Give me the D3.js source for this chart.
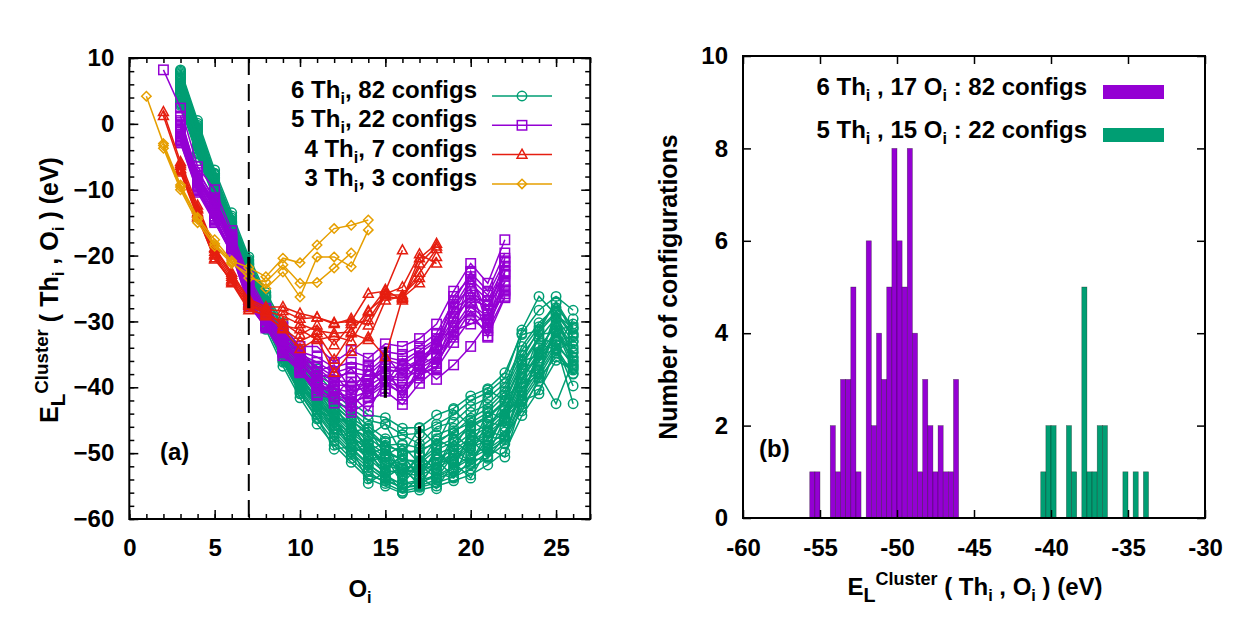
<!DOCTYPE html>
<html><head><meta charset="utf-8">
<script src="https://cdnjs.cloudflare.com/ajax/libs/d3/7.8.5/d3.min.js"></script>
<style>
body{margin:0;background:#fff}
svg{display:block}
text{font-family:"Liberation Sans",Arial,sans-serif;font-weight:bold;white-space:pre;fill:#000}
</style>
</head><body>
<svg id="c" width="1254" height="626"></svg>
<script>
// ---------------- DATA ----------------
// Panel (a): cluster energies vs number of O_i, one array per configuration
const startO6Th = 3, startO5Th = 2, startO4Th = 2, startO3Th = 1;
const green6Th = [
 [8.2,0.5,-7.0,-13.5,-20.2,-25.6,-30.2,-34.3,-37.2,-40.3,-42.3,-44.2,-44.6,-46.2,-46.1,-44.2,-43.2,-41.3,-40.2,-37.8,-31.8,-28.3,-26.2,-28.3],
 [7.6,-0.2,-7.8,-14.3,-20.8,-26.4,-31.2,-35.6,-38.9,-41.8,-43.6,-45.9,-47.8,-47.2,-48.6,-46.0,-45.3,-42.9,-41.6,-39.4,-33.8,-30.2,-27.9,-30.8],
 [6.9,-1.1,-8.3,-15.0,-21.4,-27.1,-32.2,-36.3,-39.1,-42.6,-45.1,-46.8,-49.0,-49.6,-49.9,-48.1,-46.9,-44.7,-43.2,-40.6,-35.1,-31.6,-28.8,-32.4],
 [6.2,-1.8,-8.9,-15.4,-21.9,-27.6,-32.9,-37.1,-40.2,-43.4,-45.6,-48.4,-50.1,-50.9,-51.6,-49.5,-48.3,-46.1,-44.6,-42.3,-36.6,-32.7,-29.4,-33.1],
 [5.5,-2.3,-9.2,-15.9,-22.4,-28.1,-33.4,-37.9,-41.1,-44.2,-46.8,-49.1,-51.4,-52.3,-52.0,-50.8,-49.6,-47.6,-46.0,-43.5,-37.9,-34.0,-30.6,-34.2],
 [4.8,-2.9,-9.8,-16.5,-22.9,-28.6,-34.1,-38.6,-42.0,-45.3,-47.9,-50.3,-52.6,-53.1,-53.4,-52.2,-50.9,-48.9,-47.4,-45.1,-39.5,-35.6,-31.8,-35.5],
 [4.2,-3.5,-10.3,-17.0,-23.6,-29.3,-34.9,-39.4,-43.0,-46.2,-49.1,-51.6,-53.8,-54.6,-54.1,-53.4,-52.1,-50.4,-48.9,-46.8,-41.2,-37.3,-33.1,-36.8],
 [3.4,-4.2,-10.8,-17.8,-24.4,-30.2,-35.8,-40.5,-44.1,-47.6,-50.2,-52.8,-54.6,-55.8,-55.2,-54.5,-53.6,-52.4,-50.6,-48.6,-43.0,-39.1,-34.8,-37.9],
 [2.8,-5.0,-11.4,-18.9,-25.6,-31.2,-36.8,-41.6,-45.6,-48.8,-51.4,-53.9,-55.0,-56.1,-55.6,-55.0,-54.2,-53.3,-51.8,-49.8,-44.3,-40.4,-35.9,-37.4],
 [7.2,-0.8,-8.6,-15.6,-22.0,-27.8,-32.0,-37.6,-39.8,-44.6,-45.2,-49.8,-48.2,-53.6,-50.4,-52.6,-48.0,-50.2,-45.2,-46.0,-37.0,-36.2,-28.4,-36.0],
 [5.0,-2.6,-9.5,-16.2,-23.2,-28.8,-34.6,-38.2,-43.4,-44.8,-49.6,-48.6,-52.8,-50.2,-53.8,-49.2,-52.6,-46.4,-49.6,-43.0,-42.6,-33.6,-34.2,-29.6],
 [3.9,-3.9,-10.6,-17.4,-24.0,-29.8,-35.3,-40.0,-42.6,-47.0,-47.4,-51.2,-50.6,-54.6,-51.8,-53.8,-50.2,-51.6,-47.6,-47.8,-40.0,-38.0,-31.2,-37.2],
 [8.0,0.1,-7.5,-14.0,-20.6,-26.0,-30.8,-35.0,-38.0,-40.8,-43.2,-45.0,-45.6,-47.2,-47.0,-45.6,-44.2,-42.0,-40.8,-38.6,-31.3,-26.2,-29.0,-31.0],
 [6.5,-1.5,-8.7,-15.2,-21.7,-27.4,-32.6,-36.8,-40.0,-43.1,-46.2,-47.6,-49.6,-51.0,-51.2,-49.0,-47.8,-45.8,-44.4,-42.0,-36.2,-32.4,-33.5,-42.5],
 [5.8,-2.0,-9.0,-15.7,-22.2,-27.9,-33.0,-37.4,-40.8,-43.8,-46.4,-48.8,-50.6,-51.8,-52.6,-50.2,-49.0,-47.0,-45.6,-43.2,-37.2,-38.0,-42.5,-36.0],
 [4.5,-3.2,-10.0,-16.8,-23.3,-29.0,-34.4,-39.0,-42.8,-45.8,-48.6,-50.8,-53.0,-52.4,-54.6,-51.4,-51.2,-49.2,-48.0,-44.6,-40.6,-36.0,-32.2,-34.6],
 [3.0,-4.6,-11.2,-18.4,-25.0,-30.6,-36.2,-41.0,-44.8,-48.2,-50.8,-53.4,-54.2,-55.2,-54.8,-53.0,-53.8,-51.0,-50.8,-47.4,-43.6,-38.6,-35.4,-37.0],
 [7.0,-1.0,-8.2,-14.8,-21.2,-26.8,-31.8,-36.0,-39.6,-42.0,-44.6,-46.4,-48.8,-48.6,-49.2,-47.2,-46.2,-43.8,-42.6,-40.0,-34.4,-30.8,-27.2,-31.8],
 [5.2,-2.5,-9.4,-16.0,-22.6,-28.4,-33.6,-38.4,-41.6,-44.4,-47.4,-49.4,-51.8,-52.6,-53.0,-51.6,-50.0,-48.2,-46.6,-44.0,-38.6,-34.6,-30.0,-33.8],
 [3.6,-4.4,-11.0,-17.6,-24.6,-30.0,-35.6,-40.2,-43.8,-47.2,-49.9,-52.2,-54.0,-55.2,-55.0,-54.0,-52.8,-51.8,-49.8,-48.0,-42.2,-38.4,-34.0,-38.0],
 [7.8,-0.4,-7.6,-14.6,-21.0,-26.2,-31.0,-35.4,-38.4,-42.6,-43.0,-47.4,-45.6,-50.2,-46.2,-48.8,-43.4,-46.0,-40.4,-42.0,-32.0,-31.4,-27.0,-31.2],
 [7.0,-1.3,-8.4,-15.1,-21.6,-27.3,-32.4,-36.6,-39.8,-42.9,-44.9,-47.4,-48.4,-50.2,-49.4,-48.6,-46.6,-45.4,-43.8,-41.2,-35.8,-31.2,-28.6,-32.0],
 [6.0,-1.9,-9.1,-15.6,-22.1,-27.8,-33.2,-37.6,-41.0,-45.2,-45.0,-50.2,-49.2,-53.4,-50.2,-52.6,-47.0,-49.4,-43.6,-45.0,-36.0,-35.2,-29.6,-35.4],
 [5.3,-2.7,-9.7,-16.4,-22.8,-28.5,-33.8,-38.4,-41.8,-45.0,-47.2,-49.8,-51.0,-52.8,-52.4,-51.8,-50.4,-48.6,-47.0,-44.8,-38.8,-35.0,-31.4,-34.8],
 [4.6,-3.3,-10.1,-16.9,-23.4,-29.1,-34.6,-39.2,-42.4,-44.4,-49.8,-49.2,-53.8,-52.0,-55.0,-51.0,-53.6,-48.0,-50.4,-44.6,-42.0,-35.0,-34.4,-33.0],
 [4.0,-3.8,-10.5,-17.2,-23.8,-29.6,-35.0,-39.8,-43.4,-46.8,-49.4,-51.8,-53.4,-54.8,-54.4,-53.6,-52.4,-50.8,-49.4,-47.6,-41.8,-37.8,-33.6,-36.4],
 [3.2,-4.5,-11.1,-18.2,-24.8,-30.4,-36.0,-40.8,-44.6,-49.4,-49.0,-54.6,-52.8,-56.0,-53.6,-55.4,-51.4,-53.8,-49.2,-50.6,-42.0,-41.0,-33.6,-39.8],
 [7.4,-0.6,-8.1,-14.9,-21.3,-27.0,-32.4,-36.4,-40.6,-42.4,-46.8,-46.2,-50.4,-48.8,-51.6,-47.8,-49.4,-45.0,-46.8,-41.6,-39.2,-32.0,-31.6,-30.4],
 [5.6,-2.2,-9.3,-16.1,-22.5,-28.2,-34.0,-37.8,-42.2,-44.6,-48.4,-48.2,-52.2,-50.4,-53.4,-50.0,-51.8,-47.2,-48.8,-44.2,-41.4,-34.8,-33.0,-32.2],
 [4.4,-3.4,-10.2,-17.0,-23.5,-29.2,-34.8,-39.6,-41.8,-46.4,-46.8,-51.4,-49.6,-54.2,-51.4,-53.2,-49.4,-51.4,-46.8,-47.4,-39.4,-37.6,-30.6,-36.6]
];
const purple5Th = [
 [8.2,2.4,-6.5,-10.0,-16.2,-23.2,-28.0,-30.8,-33.8,-33.8,-36.2,-34.4,-35.6,-33.4,-33.8,-32.6,-30.4,-25.4,-21.2,-24.2,-17.6],
 [null,0.5,-7.4,-11.2,-16.8,-23.8,-28.4,-31.6,-34.6,-35.4,-37.0,-36.2,-36.8,-34.6,-35.0,-33.8,-31.8,-27.0,-22.6,-25.4,-19.6],
 [null,-0.4,-8.0,-12.0,-17.4,-24.6,-28.9,-32.4,-35.2,-36.8,-38.4,-37.8,-38.2,-35.8,-36.6,-34.8,-33.0,-28.6,-24.2,-26.8,-21.6],
 [null,-1.2,-8.6,-12.8,-18.0,-25.2,-29.4,-33.0,-35.8,-38.2,-39.6,-39.8,-39.4,-37.2,-37.8,-36.0,-34.2,-30.2,-26.0,-28.2,-23.0],
 [null,-2.0,-9.2,-13.6,-18.6,-26.0,-29.8,-33.6,-36.4,-39.4,-40.6,-41.6,-40.6,-38.6,-39.0,-37.2,-35.6,-31.6,-27.8,-29.8,-24.6],
 [null,-2.9,-10.4,-15.0,-19.6,-27.6,-30.8,-35.2,-37.6,-41.0,-41.8,-43.8,-42.2,-40.6,-42.6,-39.4,-37.2,-33.2,-29.6,-31.4,-26.2],
 [null,-1.6,-7.0,-11.6,-17.0,-24.0,-29.0,-32.0,-34.2,-37.6,-36.6,-40.4,-37.4,-39.6,-35.6,-37.8,-32.0,-32.0,-22.4,-31.0,-21.0],
 [null,-0.8,-9.8,-14.2,-19.2,-26.8,-30.4,-34.6,-37.0,-40.2,-40.0,-42.8,-36.6,-40.2,-36.8,-38.6,-35.0,-27.4,-25.0,-32.4,-22.4],
 [null,1.2,-8.3,-12.4,-17.8,-25.6,-29.6,-33.2,-36.0,-38.8,-41.4,-38.6,-41.6,-38.0,-40.4,-35.4,-36.4,-29.2,-26.8,-27.6,-24.0],
 [null,-2.4,-9.6,-14.6,-19.0,-27.0,-30.2,-34.0,-36.8,-41.2,-39.0,-43.4,-39.8,-36.4,-41.8,-36.6,-38.8,-36.6,-33.8,-30.2,-25.4],
 [null,-0.1,-8.8,-13.0,-18.4,-25.8,-28.6,-33.8,-35.4,-37.0,-39.2,-37.2,-40.2,-35.2,-38.2,-35.6,-33.6,-26.2,-23.2,-28.8,-20.4],
 [null,-2.6,-10.0,-14.8,-19.8,-27.4,-31.0,-34.8,-37.4,-40.6,-41.4,-42.6,-41.0,-39.2,-40.0,-38.2,-37.0,-30.8,-28.6,-32.2,-26.4],
 [null,0.2,-7.8,-11.8,-17.2,-24.4,-28.6,-32.2,-35.0,-36.2,-37.8,-37.0,-37.6,-35.4,-36.0,-34.4,-32.6,-27.8,-23.6,-26.0,-20.8],
 [null,-1.0,-8.4,-12.6,-17.9,-25.0,-29.2,-32.8,-35.6,-37.8,-39.0,-39.2,-38.8,-36.8,-37.2,-35.8,-33.8,-29.6,-25.4,-27.6,-22.4],
 [null,-1.8,-9.0,-13.4,-18.8,-25.8,-29.8,-33.4,-36.2,-39.0,-40.2,-40.8,-39.8,-38.2,-38.6,-36.8,-35.2,-31.0,-27.2,-29.4,-24.0],
 [null,-2.2,-9.4,-14.0,-19.4,-26.4,-30.6,-34.4,-37.2,-39.8,-41.0,-42.2,-41.4,-39.6,-40.8,-37.8,-36.2,-32.4,-28.4,-30.6,-25.2],
 [null,-0.6,-8.2,-12.2,-17.6,-24.8,-29.0,-32.6,-34.8,-38.4,-38.0,-41.0,-39.0,-37.6,-37.4,-36.4,-34.0,-28.0,-26.4,-27.0,-22.8],
 [null,-2.8,-10.2,-14.4,-19.6,-27.2,-30.6,-34.2,-37.8,-39.6,-42.4,-41.2,-43.6,-39.0,-41.2,-38.0,-36.8,-31.4,-30.4,-29.0,-25.8]
];
const red4Th = [
 [1.8,-5.8,-12.4,-18.8,-22.6,-26.6,-27.8,-27.8,-28.8,-29.4,-30.2,-30.0,-25.8,-25.4,-19.2,null,null],
 [1.2,-6.4,-13.0,-19.4,-23.2,-27.2,-28.4,-29.2,-30.4,-31.4,-31.8,-31.6,-28.4,-26.2,-26.6,-20.4,-18.2],
 [null,-7.0,-13.6,-19.8,-23.6,-27.6,-28.8,-30.2,-32.0,-30.6,-33.6,-30.4,-29.8,-25.8,-24.8,-19.8,-21.2],
 [null,-7.4,-14.2,-20.4,-24.0,-28.0,-29.2,-31.0,-33.0,-31.8,-35.8,-31.8,-32.8,-26.8,-26.2,-22.6,-19.0],
 [null,-6.8,-12.8,-19.0,-22.9,-26.8,-28.2,-28.4,-29.6,-29.4,-30.4,-29.6,-30.6,-26.0,-26.0,-23.4,null],
 [null,-6.1,-13.4,-20.0,-24.2,-28.3,-29.0,-31.2,-34.2,-32.6,-37.8,-34.6,-32.4,-35.4,-26.4,-24.2,-20.2],
 [null,-7.2,-14.0,-20.6,-23.8,-27.4,-28.6,-30.6,-31.2,-32.8,-32.2,-33.0,-28.6,-25.2,-26.8,-21.2,-18.6]
];
const orange3Th = [
 [4.2,-3.0,-9.3,-14.2,-17.6,-20.8,-21.8,-23.2,-20.4,-21.1,-18.4,-15.9,-15.4,-14.6],
 [null,-3.7,-10.0,-15.0,-18.6,-21.2,-22.8,-25.0,-22.5,-26.3,-20.2,-20.2,-21.7,-16.1],
 [null,-3.3,-9.6,-14.5,-18.2,-21.0,-23.4,-24.0,-21.4,-24.2,-24.1,-21.9,-19.6,null]
];
const legendA = ["6 Th|i|, 82 configs", "5 Th|i|, 22 configs", "4 Th|i|, 7 configs", "3 Th|i|, 3 configs"];
const dashedO = 7;
const rangeBars = [{o:7, e0:-20.2, e1:-28.0}, {o:15, e0:-33.9, e1:-41.6}, {o:17, e0:-45.9, e1:-55.4}];
const xTicksA = [0,5,10,15,20,25];
const yTicksA = [-60,-50,-40,-30,-20,-10,0,10];

// Panel (b): histogram, bin left edges (eV) and counts, bin width 1/3 eV
const histBinWidth = 1/3;
const hist6ThLeft = [-55.667,-55.333,-54.333,-54.0,-53.667,-53.333,-53.0,-52.667,-52.0,-51.667,-51.333,-51.0,-50.667,-50.333,-50.0,-49.667,-49.333,-49.0,-48.667,-48.333,-48.0,-47.667,-47.333,-47.0,-46.667,-46.333];
const hist6ThCount = [1,1,2,1,3,3,5,1,6,2,4,3,5,8,6,5,8,4,1,3,2,1,2,1,1,3];
const hist5ThLeft = [-40.667,-40.333,-40.0,-39.0,-38.667,-38.0,-37.667,-37.333,-37.0,-36.667,-35.333,-34.667,-34.0];
const hist5ThCount = [1,2,2,2,1,5,1,1,2,2,1,1,1];
const legendB = ["6 Th|i| , 17 O|i| : 82 configs", "5 Th|i| , 15 O|i| : 22 configs"];
const xTicksB = [-60,-55,-50,-45,-40,-35,-30];
const yTicksB = [0,2,4,6,8,10];

const C = {green:"#009e73", purple:"#9400d3", red:"#e51e10", orange:"#e69f00"};

// ---------------- HELPERS ----------------
const svg = d3.select("#c");
function rich(parent, x, y, str, opt={}) {
  const size = opt.size || 24, anchor = opt.anchor || "start", rot = opt.rotate || 0;
  const t = parent.append("text").attr("text-anchor", anchor).attr("font-size", size)
    .attr("transform", `translate(${x},${y}) rotate(${rot})`);
  const parts = opt.parts || str.split("|").map((s,i)=>({t:s, sub: i%2===1}));
  let cur = 0;
  parts.forEach(p => {
    if (!p.t) return;
    const shift = p.sub ? (p.shift ?? size*0.25) : p.sup ? -(p.shift ?? size*0.42) : 0;
    const fs = p.sub ? size*(p.scale ?? 0.68) : p.sup ? size*(p.scale ?? 0.75) : size;
    t.append("tspan").attr("dy", shift - cur).attr("font-size", fs).text(p.t);
    cur = shift;
  });
  return t;
}
function marker(g, type, x, y) {
  const s = 4.7;
  if (type === "circle") g.append("circle").attr("cx",x).attr("cy",y).attr("r",s);
  else if (type === "square") g.append("rect").attr("x",x-s).attr("y",y-s).attr("width",2*s).attr("height",2*s);
  else if (type === "triangle") g.append("path").attr("d",`M${x},${y-s*1.15}L${x+s*1.05},${y+s*0.75}L${x-s*1.05},${y+s*0.75}Z`);
  else if (type === "diamond") g.append("path").attr("d",`M${x},${y-s}L${x+s},${y}L${x},${y+s}L${x-s},${y}Z`);
}

// ---------------- PANEL (a) ----------------
const xA = d3.scaleLinear().domain([0,27]).range([129.3,590.2]);
const yA = d3.scaleLinear().domain([-60,10]).range([519,58]);
const gA = svg.append("g");

gA.append("line").attr("x1",xA(dashedO)).attr("x2",xA(dashedO)).attr("y1",yA(10)).attr("y2",yA(-60))
  .attr("stroke","#000").attr("stroke-width",2).attr("stroke-dasharray","17,9");

const series = [
  {data:green6Th, start:startO6Th, color:C.green, m:"circle"},
  {data:purple5Th, start:startO5Th, color:C.purple, m:"square"},
  {data:red4Th, start:startO4Th, color:C.red, m:"triangle"},
  {data:orange3Th, start:startO3Th, color:C.orange, m:"diamond"}
];
const line = d3.line().defined(d=>d.e!=null).x(d=>xA(d.o)).y(d=>yA(d.e));
series.forEach(s => {
  const gs = gA.append("g");
  s.data.forEach(arr => {
    const pts = arr.map((e,i)=>({o:s.start+i, e}));
    gs.append("path").attr("d", line(pts)).attr("fill","none").attr("stroke",s.color).attr("stroke-width",1.5);
    const gm = gs.append("g").attr("fill","none").attr("stroke",s.color).attr("stroke-width",1.5);
    pts.filter(p=>p.e!=null).forEach(p => marker(gm, s.m, xA(p.o), yA(p.e)));
  });
});

rangeBars.forEach(b => gA.append("line").attr("x1",xA(b.o)).attr("x2",xA(b.o)).attr("y1",yA(b.e0)).attr("y2",yA(b.e1))
  .attr("stroke","#000").attr("stroke-width",3.2));

(function axesA() {
  const mk = (ax, tr) => gA.append("g").attr("transform",tr).call(ax).call(g=>g.select(".domain").remove());
  const lab = g => g.selectAll("text").attr("font-size",24).attr("font-family",null).attr("font-weight","bold");
  mk(d3.axisBottom(xA).tickValues(xTicksA).tickSize(-9).tickPadding(20), `translate(0,${yA(-60)})`).call(lab);
  mk(d3.axisBottom(xA).tickValues(d3.range(0,28)).tickSize(-5).tickFormat(""), `translate(0,${yA(-60)})`);
  mk(d3.axisTop(xA).tickValues(xTicksA).tickSize(-9).tickFormat(""), `translate(0,${yA(10)})`);
  mk(d3.axisTop(xA).tickValues(d3.range(0,28)).tickSize(-5).tickFormat(""), `translate(0,${yA(10)})`);
  mk(d3.axisLeft(yA).tickValues(yTicksA).tickSize(-9).tickPadding(15), `translate(${xA(0)},0)`).call(lab);
  mk(d3.axisLeft(yA).tickValues(d3.range(-60,11,2)).tickSize(-5).tickFormat(""), `translate(${xA(0)},0)`);
  mk(d3.axisRight(yA).tickValues(yTicksA).tickSize(-9).tickFormat(""), `translate(${xA(27)},0)`);
  mk(d3.axisRight(yA).tickValues(d3.range(-60,11,2)).tickSize(-5).tickFormat(""), `translate(${xA(27)},0)`);
  gA.selectAll(".tick line").attr("stroke","#000").attr("stroke-width",1.5);
  gA.append("rect").attr("x",xA(0)).attr("y",yA(10)).attr("width",xA(27)-xA(0)).attr("height",yA(-60)-yA(10))
    .attr("fill","none").attr("stroke","#000").attr("stroke-width",2);
})();

legendA.forEach((txt,i) => {
  const y = 98 + i*29.3;
  rich(gA, 477, y, txt, {size:24, anchor:"end"});
  const s = series[i];
  gA.append("line").attr("x1",492).attr("x2",552).attr("y1",y-2).attr("y2",y-2).attr("stroke",s.color).attr("stroke-width",1.5);
  const gm = gA.append("g").attr("fill","none").attr("stroke",s.color).attr("stroke-width",1.5);
  marker(gm, s.m, 522, y-2);
});
rich(gA, 160, 460, "(a)", {size:24});
rich(gA, 360, 597, "O|i", {size:24, anchor:"middle"});
rich(gA, 58, 290, "", {size:25, anchor:"middle", rotate:-90, parts:[
  {t:"E"},{t:"L",sub:true,scale:0.82,shift:7},{t:"Cluster",sup:true,scale:0.75,shift:10},
  {t:" ( Th"},{t:"i",sub:true,shift:6},{t:" , O"},{t:"i",sub:true,shift:6},{t:" ) (eV)"}]});

// ---------------- PANEL (b) ----------------
const xB = d3.scaleLinear().domain([-60,-30]).range([743,1205]);
const yB = d3.scaleLinear().domain([0,10]).range([518,56]);
const gB = svg.append("g");

function bars(lefts, counts, color) {
  gB.append("g").selectAll("rect").data(lefts.map((l,i)=>({l, c:counts[i]}))).join("rect")
    .attr("x",d=>xB(d.l)).attr("width",d=>xB(d.l+histBinWidth)-xB(d.l))
    .attr("y",d=>yB(d.c)).attr("height",d=>yB(0)-yB(d.c))
    .attr("fill",color).attr("stroke","rgba(0,0,0,0.45)").attr("stroke-width",0.6);
}
bars(hist6ThLeft, hist6ThCount, C.purple);
bars(hist5ThLeft, hist5ThCount, C.green);

(function axesB(){
  const mk = (ax, tr) => gB.append("g").attr("transform",tr).call(ax).call(g=>g.select(".domain").remove());
  const lab = g => g.selectAll("text").attr("font-size",24).attr("font-family",null).attr("font-weight","bold");
  mk(d3.axisBottom(xB).tickValues(xTicksB).tickSize(-8).tickPadding(21).tickFormat(d=>String(d).replace("\u2212","-")), `translate(0,${yB(0)})`).call(lab);
  mk(d3.axisTop(xB).tickValues(xTicksB).tickSize(-8).tickFormat(""), `translate(0,${yB(10)})`);
  mk(d3.axisLeft(yB).tickValues(yTicksB).tickSize(-8).tickPadding(15), `translate(${xB(-60)},0)`).call(lab);
  mk(d3.axisRight(yB).tickValues(yTicksB).tickSize(-8).tickFormat(""), `translate(${xB(-30)},0)`);
  gB.selectAll(".tick line").attr("stroke","#000").attr("stroke-width",1.5);
  gB.append("rect").attr("x",xB(-60)).attr("y",yB(10)).attr("width",xB(-30)-xB(-60)).attr("height",yB(0)-yB(10))
    .attr("fill","none").attr("stroke","#000").attr("stroke-width",2);
})();

legendB.forEach((txt,i) => {
  const y = 95 + i*43;
  rich(gB, 1087, y, txt, {size:24, anchor:"end"});
  gB.append("rect").attr("x",1103).attr("y",y-10).attr("width",61).attr("height",14)
    .attr("fill", i===0 ? C.purple : C.green);
});
rich(gB, 759, 457, "(b)", {size:24});
rich(gB, 677, 287, "Number of configurations", {size:25, anchor:"middle", rotate:-90});
rich(gB, 975, 595, "", {size:24, anchor:"middle", parts:[
  {t:"E"},{t:"L",sub:true,scale:0.82,shift:7},{t:"Cluster",sup:true,scale:0.75,shift:10},
  {t:" ( Th"},{t:"i",sub:true,shift:6},{t:" , O"},{t:"i",sub:true,shift:6},{t:" ) (eV)"}]});
</script>
</body></html>
